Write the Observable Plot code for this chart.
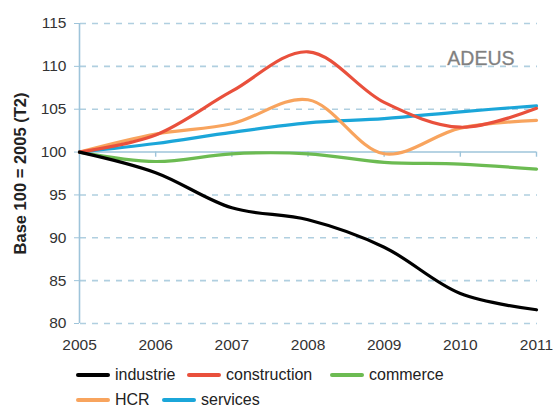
<!DOCTYPE html>
<html>
<head>
<meta charset="utf-8">
<script src="https://cdn.jsdelivr.net/npm/d3@7"></script>
<script src="https://cdn.jsdelivr.net/npm/@observablehq/plot@0.6"></script>
<style>
  html, body { margin: 0; padding: 0; background: #fff; }
  #wrap { position: relative; width: 558px; height: 408px; font-family: "Liberation Sans", Arial, sans-serif; }
  .lg { position: absolute; display: flex; align-items: center; font-size: 16px; color: #222; white-space: nowrap; }
  .sw { width: 34px; height: 4px; margin-right: 5px; border-radius: 2px; }
</style>
</head>
<body>
<div id="wrap"></div>
<script>
const years = [2005, 2006, 2007, 2008, 2009, 2010, 2011];
const industrie    = [100, 97.6, 93.5, 92.1, 88.9, 83.5, 81.6];
const construction = [100, 102.0, 107.1, 111.7, 105.8, 102.9, 105.1];
const commerce     = [100, 98.9, 99.8, 99.8, 98.8, 98.6, 98.0];
const hcr          = [100, 102.1, 103.3, 106.1, 99.8, 102.8, 103.7];
const services     = [100, 101.0, 102.3, 103.4, 103.9, 104.7, 105.4];
const seriesNames  = ["industrie", "construction", "commerce", "HCR", "services"];
const seriesColors = ["#000000", "#e9503c", "#6cbb52", "#f8a45e", "#1ba6d9"];
const yTicks = [80, 85, 90, 95, 100, 105, 110, 115];
const gridTicks = [80, 85, 90, 95, 105, 110, 115];

const seriesValues = [industrie, construction, commerce, hcr, services];
const rows = [];
seriesNames.forEach((name, i) => {
  years.forEach((yr, j) => rows.push({series: name, year: yr, value: seriesValues[i][j]}));
});
const drawOrder = ["commerce", "services", "HCR", "construction", "industrie"];

const axisColor = "#9ec4da";
const chart = Plot.plot({
  width: 558,
  height: 355,
  marginLeft: 79,
  marginRight: 22,
  marginTop: 23,
  marginBottom: 32,
  style: {fontFamily: "Liberation Sans, Arial, sans-serif", background: "#fff", color: "#333"},
  x: {domain: [2005, 2011], label: null},
  y: {domain: [80, 115], label: null},
  color: {domain: seriesNames, range: seriesColors},
  marks: [
    Plot.ruleY(gridTicks, {x1: 2005, x2: 2011, dx: 1, stroke: "#b0cfe0", strokeWidth: 1.6, strokeDasharray: "6,6"}),
    Plot.ruleX([2005], {y1: 80, y2: 115, stroke: axisColor, strokeWidth: 1.6}),
    Plot.ruleY([100], {x1: 2005, x2: 2011, stroke: axisColor, strokeWidth: 1.6}),
    Plot.ruleX(years.slice(1), {y1: 100, y2: 99.4, stroke: axisColor, strokeWidth: 1.4}),
    Plot.axisY({ticks: yTicks, label: null, tickSize: 5, tickPadding: 8, stroke: axisColor, fontSize: 15.5, fill: "#333"}),
    Plot.axisX({ticks: years, label: null, tickFormat: d => String(d), tickSize: 0, tickPadding: 15, fontSize: 15.5, fill: "#333"}),
    ...drawOrder.map(name => Plot.line(rows.filter(r => r.series === name), {
      x: "year", y: "value", stroke: "series", strokeWidth: 3.2, curve: "catmull-rom"
    })),
    Plot.text(["Base 100 = 2005 (T2)"], {frameAnchor: "left", textAnchor: "middle", rotate: -90, dx: -59, fontSize: 16.5, fontWeight: "bold", fill: "#222"}),
    Plot.text(["ADEUS"], {frameAnchor: "top-right", dx: -22, dy: 28, textAnchor: "end", fontSize: 19.5, fill: "#808080", stroke: "#b0b0b0", strokeWidth: 0.4})
  ]
});
const wrap = document.getElementById("wrap");
wrap.appendChild(chart);

const legendPos = [
  {name: "industrie", left: 76, top: 366},
  {name: "construction", left: 187, top: 366},
  {name: "commerce", left: 330, top: 366},
  {name: "HCR", left: 76, top: 391},
  {name: "services", left: 162, top: 391}
];
legendPos.forEach(p => {
  const i = seriesNames.indexOf(p.name);
  const d = document.createElement("div");
  d.className = "lg";
  d.style.left = p.left + "px";
  d.style.top = p.top + "px";
  d.innerHTML = `<span class="sw" style="background:${seriesColors[i]}"></span><span>${p.name}</span>`;
  wrap.appendChild(d);
});
</script>
</body>
</html>
